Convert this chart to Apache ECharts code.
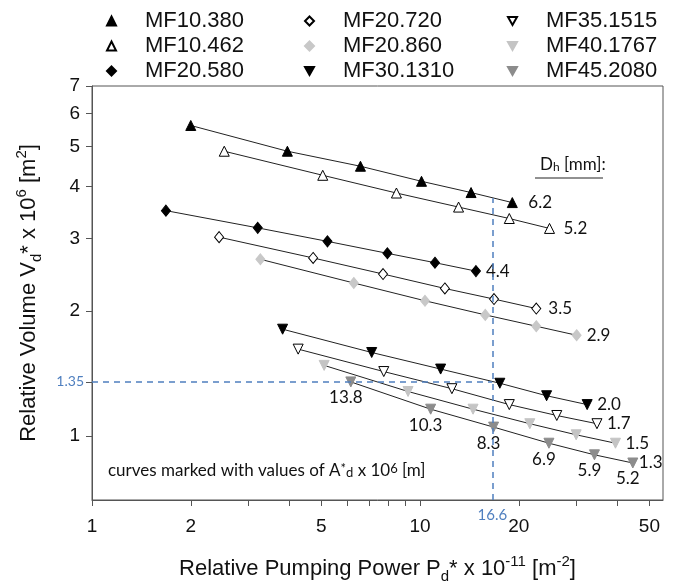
<!DOCTYPE html>
<html style="height: 100%">
<head>
    <meta charset="utf-8">
</head>
<body style="margin: 0; height: 100%; background: #fff;">
<div id="container" style="width: 678px; height: 585px;"></div>
<script type="text/javascript" src="https://cdn.jsdelivr.net/npm/echarts@6/dist/echarts.min.js"></script>
<script type="text/javascript">
    // series names, in legend order (column by column)
    var names = ['MF10.380', 'MF10.462', 'MF20.580', 'MF20.720', 'MF20.860',
                 'MF30.1310', 'MF35.1515', 'MF40.1767', 'MF45.2080'];

    // relative pumping power P_d* x 1e-11 [m^-2]
    var mf10_380_x = [2.0, 3.94, 6.58, 10.1, 14.3, 19.1];
    var mf10_462_x = [2.53, 5.05, 8.47, 13.1, 18.7, 24.8];
    var mf20_580_x = [1.68, 3.2, 5.22, 7.95, 11.1, 14.8];
    var mf20_720_x = [2.44, 4.72, 7.71, 11.9, 16.8, 22.6];
    var mf20_860_x = [3.26, 6.28, 10.35, 15.8, 22.6, 30.0];
    var mf30_1310_x = [3.81, 7.12, 11.55, 17.5, 24.3, 32.3];
    var mf35_1515_x = [4.25, 7.75, 12.5, 18.7, 26.1, 34.6];
    var mf40_1767_x = [5.1, 9.19, 14.5, 21.6, 29.9, 39.4];
    var mf45_2080_x = [6.15, 10.77, 16.75, 24.7, 34.0, 44.5];

    // relative volume V_d* x 1e6 [m^2]
    var mf10_380_y = [5.62, 4.87, 4.48, 4.12, 3.87, 3.66];
    var mf10_462_y = [4.87, 4.26, 3.86, 3.57, 3.35, 3.17];
    var mf20_580_y = [3.5, 3.18, 2.95, 2.76, 2.62, 2.5];
    var mf20_720_y = [3.02, 2.69, 2.46, 2.27, 2.14, 2.03];
    var mf20_860_y = [2.67, 2.34, 2.12, 1.96, 1.84, 1.75];
    var mf30_1310_y = [1.81, 1.59, 1.45, 1.34, 1.25, 1.19];
    var mf35_1515_y = [1.62, 1.43, 1.30, 1.19, 1.12, 1.07];
    var mf40_1767_y = [1.48, 1.28, 1.16, 1.07, 1.006, 0.96];
    var mf45_2080_y = [1.35, 1.16, 1.05, 0.96, 0.90, 0.86];

    // hydraulic diameter D_h [mm] written at the end of each curve
    var dhValues = ['6.2', '5.2', '4.4', '3.5', '2.9', '2.0', '1.7', '1.5', '1.3'];
    // A_d* x 1e6 [m] values marked along the curves
    var aValues = ['13.8', '10.3', '8.3', '6.9', '5.9', '5.2'];

    // reading lines
    var readX = 16.6;
    var readY = 1.35;
    var readTopY = 3.75;

    // ticks and labels
    var xTicks = [1, 2, 3, 4, 5, 6, 7, 8, 9, 10, 20, 30, 40, 50];
    var xLabels = [1, 2, 5, 10, 20, 50];
    var yTicks = [1, 1.35, 2, 3, 4, 5, 6, 7];

    var xMin = 1, xMax = 55, yMin = 0.7, yMax = 7;

    var xs = [mf10_380_x, mf10_462_x, mf20_580_x, mf20_720_x, mf20_860_x,
              mf30_1310_x, mf35_1515_x, mf40_1767_x, mf45_2080_x];
    var ys = [mf10_380_y, mf10_462_y, mf20_580_y, mf20_720_y, mf20_860_y,
              mf30_1310_y, mf35_1515_y, mf40_1767_y, mf45_2080_y];

    var blue = '#4f7fbf';
    var labelFont = 'Lato';
    var axisFont = 'Liberation Sans';
    var downTri = 'path://M0,0 L10,0 L5,9 Z';

    // marker look per series
    var looks = [
        {symbol: 'triangle', rot: 0, fill: '#000', border: '#000'},
        {symbol: 'triangle', rot: 0, fill: '#fff', border: '#000'},
        {symbol: 'diamond', rot: 0, fill: '#000', border: '#000'},
        {symbol: 'diamond', rot: 0, fill: '#fff', border: '#000'},
        {symbol: 'diamond', rot: 0, fill: '#c8c8c8', border: '#c8c8c8'},
        {symbol: 'triangle', rot: 180, fill: '#000', border: '#000'},
        {symbol: 'triangle', rot: 180, fill: '#fff', border: '#000'},
        {symbol: 'triangle', rot: 180, fill: '#c4c4c4', border: '#c4c4c4'},
        {symbol: 'triangle', rot: 180, fill: '#8c8c8c', border: '#8c8c8c'}
    ];
    var endGap = [16, 14, 10, 12, 10, 10, 10, 10, 6];

    function pairs(i) {
        return xs[i].map(function (x, k) { return [x, ys[i][k]]; });
    }

    var series = [];
    // lines first
    names.forEach(function (name, i) {
        series.push({
            name: name + ' fit',
            type: 'line',
            data: pairs(i),
            symbol: 'none',
            silent: true,
            lineStyle: {color: '#222', width: 1},
            endLabel: {
                show: true,
                formatter: dhValues[i],
                distance: endGap[i],
                fontFamily: labelFont,
                fontSize: 17,
                color: '#111'
            },
            z: 2
        });
    });
    // dashed reading lines
    series.push({
        name: 'reading',
        type: 'line',
        data: [],
        symbol: 'none',
        silent: true,
        markLine: {
            silent: true,
            symbol: 'none',
            animation: false,
            label: {show: false},
            lineStyle: {color: blue, type: [6, 5], width: 1.5},
            data: [
                [{coord: [readX, yMin]}, {coord: [readX, readTopY]}],
                [{coord: [xMin, readY]}, {coord: [readX, readY]}]
            ]
        },
        z: 1
    });
    // markers
    names.forEach(function (name, i) {
        var lk = looks[i];
        var s = {
            name: name,
            type: 'scatter',
            data: pairs(i),
            symbol: lk.symbol,
            symbolRotate: lk.rot,
            symbolSize: lk.symbol === 'diamond' ? [9, 11] : 10,
            itemStyle: {color: lk.fill, borderColor: lk.border, borderWidth: 1, opacity: 1},
            z: 3
        };
        if (i === 8) {
            s.label = {
                show: true,
                position: 'bottom',
                distance: 2,
                offset: [-5, 0],
                formatter: function (p) { return aValues[p.dataIndex]; },
                fontFamily: labelFont,
                fontSize: 17,
                color: '#111'
            };
        }
        series.push(s);
    });

    function legendCol(left, from) {
        var items = names.slice(from, from + 3).map(function (n, k) {
            var lk = looks[from + k];
            var item = {name: n};
            if (lk.rot === 180) { item.icon = downTri; }
            return item;
        });
        return {
            orient: 'vertical',
            left: left,
            top: 5,
            data: items,
            itemWidth: 9,
            itemHeight: 9,
            itemGap: 3,
            symbolRotate: 0,
            selectedMode: false,
            textStyle: {fontFamily: axisFont, fontSize: 22, color: '#111', lineHeight: 22, padding: [0, 0, 0, 24]}
        };
    }

    var richSub = {
        sub: {fontFamily: axisFont, fontSize: 15, color: '#111', verticalAlign: 'bottom', lineHeight: 30},
        sup: {fontFamily: axisFont, fontSize: 15, color: '#111', verticalAlign: 'top', lineHeight: 30}
    };

    var dom = document.getElementById('container');
    var myChart = echarts.init(dom, null, {renderer: 'canvas'});

    var option = {
        backgroundColor: '#fff',
        animation: false,
        legend: [
            legendCol(101, 0),
            legendCol(299, 3),
            legendCol(502, 6)
        ],
        grid: {
            left: 92, right: 15, top: 86, bottom: 85,
            containLabel: false,
            outerBoundsMode: 'none',
            show: true, borderColor: '#555', borderWidth: 1
        },
        xAxis: {
            type: 'log',
            logBase: 10,
            min: xMin,
            max: xMax,
            name: 'Relative Pumping Power P{sub|d}* x 10{sup|-11} [m{sup|-2}]',
            nameLocation: 'middle',
            nameGap: 54,
            nameTextStyle: {fontFamily: axisFont, fontSize: 22, color: '#111', lineHeight: 30, rich: richSub},
            axisLine: {lineStyle: {color: '#555'}},
            axisTick: {show: true, length: 6, customValues: xTicks, lineStyle: {color: '#555'}},
            minorTick: {show: false},
            splitLine: {show: false},
            axisLabel: {
                customValues: xLabels,
                margin: 17,
                fontFamily: axisFont,
                fontSize: 19,
                color: '#111',
                formatter: function (v) { return String(Math.round(v)); }
            }
        },
        yAxis: {
            type: 'log',
            logBase: 10,
            min: yMin,
            max: yMax,
            name: 'Relative Volume V{sub|d}* x 10{sup|6} [m{sup|2}]',
            nameLocation: 'middle',
            nameGap: 48,
            nameTextStyle: {fontFamily: axisFont, fontSize: 22, color: '#111', lineHeight: 30, rich: richSub},
            axisLine: {lineStyle: {color: '#555'}},
            axisTick: {show: true, length: 6, customValues: yTicks, lineStyle: {color: '#555'}},
            splitLine: {show: false},
            axisLabel: {
                customValues: yTicks,
                margin: 12,
                fontFamily: axisFont,
                fontSize: 19,
                color: '#111',
                formatter: function (v) {
                    if (Math.abs(v - readY) < 1e-6) { return '{b|' + readY + '}'; }
                    return String(Math.round(v));
                },
                rich: {
                    b: {fontFamily: labelFont, fontSize: 14, color: blue, padding: [0, -4, 0, 0]}
                }
            }
        },
        graphic: [
            {
                type: 'text',
                left: 540,
                top: 156,
                style: {
                    text: 'D{s|h} [mm]:',
                    fontFamily: labelFont,
                    fontSize: 17,
                    fill: '#111',
                    rich: {s: {fontFamily: labelFont, fontSize: 12, verticalAlign: 'bottom', fill: '#111'}}
                }
            },
            {
                type: 'line',
                shape: {x1: 535, y1: 178, x2: 603, y2: 178},
                style: {stroke: '#222', lineWidth: 1}
            },
            {
                type: 'text',
                left: 108,
                top: 462,
                style: {
                    text: 'curves marked with values of A{p|*}{s|d} x 10{p|6} [m]',
                    fontFamily: labelFont,
                    fontSize: 17,
                    fill: '#111',
                    rich: {
                        p: {fontFamily: labelFont, fontSize: 13, verticalAlign: 'top', fill: '#111'},
                        s: {fontFamily: labelFont, fontSize: 13, verticalAlign: 'bottom', fill: '#111'}
                    }
                }
            }
        ],
        series: series
    };

    if (option && typeof option === 'object') {
        myChart.setOption(option);
    }

    // blue reading value under the x axis, placed through the axis scale
    var foot = myChart.convertToPixel({gridIndex: 0}, [readX, yMin]);
    myChart.setOption({
        graphic: [
            {
                type: 'text',
                id: 'readXLabel',
                x: foot[0],
                y: foot[1] + 15,
                style: {
                    text: String(readX),
                    fontFamily: labelFont,
                    fontSize: 15,
                    fill: blue,
                    align: 'center',
                    verticalAlign: 'middle'
                }
            }
        ]
    });
</script>
</body>
</html>
